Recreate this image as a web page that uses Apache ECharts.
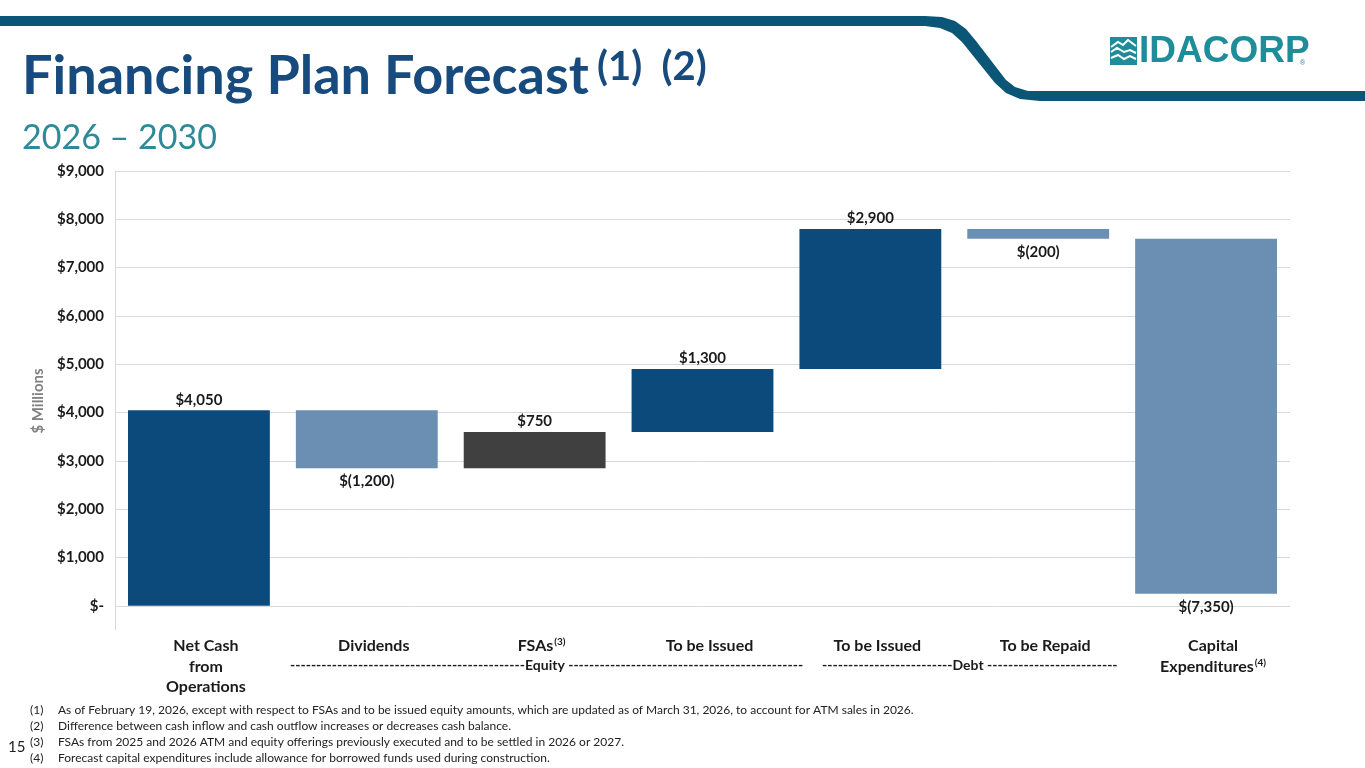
<!DOCTYPE html>
<html>
<head>
<meta charset="utf-8">
<script src="https://cdn.jsdelivr.net/npm/echarts@6/dist/echarts.min.js"></script>
<style>
  html, body { margin: 0; padding: 0; background: #fff; }
  #main { width: 1365px; height: 768px; }
</style>
</head>
<body>
<div id="main"></div>
<script>
// 融资计划瀑布图数据
var categories = ['Net Cash\nfrom\nOperations', 'Dividends', 'FSAs', 'To be Issued', 'To be Issued', 'To be Repaid', 'Capital\nExpenditures'];
var supers = ['', '', '(3)', '', '', '', '(4)'];
var changes = [4050, -1200, 750, 1300, 2900, -200, -7350];
var valueLabels = ['$4,050', '$(1,200)', '$750', '$1,300', '$2,900', '$(200)', '$(7,350)'];
var barColors = ['#0c4a7c', '#6a8fb3', '#404040', '#0c4a7c', '#0c4a7c', '#6a8fb3', '#6a8fb3'];
var yTicks = [0, 1000, 2000, 3000, 4000, 5000, 6000, 7000, 8000, 9000];
var footnotes = [
  'As of February 19, 2026, except with respect to FSAs and to be issued equity amounts, which are updated as of March 31, 2026, to account for ATM sales in 2026.',
  'Difference between cash inflow and cash outflow increases or decreases cash balance.',
  'FSAs from 2025 and 2026 ATM and equity offerings previously executed and to be settled in 2026 or 2027.',
  'Forecast capital expenditures include allowance for borrowed funds used during construction.'
];

var FONT = 'Lato';
var myChart = echarts.init(document.getElementById('main'));

// 基座（透明）和增量
var baseData = [];
var deltaData = [];
var run = 0;
for (var i = 0; i < changes.length; i++) {
  var c = changes[i];
  var bottom = c >= 0 ? run : run + c;
  baseData.push(bottom);
  deltaData.push({
    value: Math.abs(c),
    itemStyle: { color: barColors[i] },
    label: { position: c >= 0 ? 'top' : 'bottom', distance: c >= 0 ? 3 : 6 }
  });
  run += c;
}

// 分类标签带上标
var catLabels = [];
for (var j = 0; j < categories.length; j++) {
  var lines = categories[j].split('\n');
  var last = lines.length - 1;
  var s = '';
  for (var k = 0; k < lines.length; k++) {
    s += '{m|' + lines[k] + '}';
    if (k == last && supers[j]) s += '{s|' + supers[j] + '}';
    if (k < last) s += '\n';
  }
  catLabels.push(s);
}

var footGraphics = [];
for (var f = 0; f < footnotes.length; f++) {
  footGraphics.push({
    type: 'text', left: 30, top: 704 + f * 16.2,
    style: { text: '(' + (f + 1) + ')', font: '12px ' + FONT, fill: '#222' }
  });
  footGraphics.push({
    type: 'text', left: 58, top: 704 + f * 16.2,
    style: { text: footnotes[f], font: '12px ' + FONT, fill: '#222' }
  });
}

// 顶部装饰条轮廓
var bandPoints = [[0, 16], [925, 16], [942, 17], [955, 21], [966, 29], [976, 41], [1006, 80], [1015, 87], [1028, 91], [1365, 91],
  [1365, 101], [1040, 101], [1020, 99], [1006, 93], [995, 83], [962, 42], [952, 33], [940, 28], [925, 26], [0, 26]];

var option = {
  backgroundColor: '#fff',
  animation: false,
  grid: { left: 115, right: 75, top: 171, bottom: 138, containLabel: false },
  xAxis: {
    type: 'category',
    data: catLabels,
    axisLine: { show: false },
    axisTick: { show: false },
    axisLabel: {
      margin: 6,
      interval: 0,
      padding: [0, 0, 0, 14],
      rich: {
        m: { fontFamily: FONT, fontWeight: 'bold', fontSize: 16, color: '#1a1a1a', lineHeight: 20.5 },
        s: { fontFamily: FONT, fontWeight: 'bold', fontSize: 10, color: '#1a1a1a', lineHeight: 20.5, padding: [0, 0, 8, 1] }
      }
    }
  },
  yAxis: {
    type: 'value',
    min: -500,
    max: 9000,
    interval: 500,
    axisLine: { show: true, lineStyle: { color: '#d9d9d9', width: 1 } },
    axisTick: { show: false },
    axisLabel: {
      margin: 11,
      fontFamily: FONT,
      fontWeight: 'bold',
      fontSize: 15,
      color: '#1a1a1a',
      formatter: function (v) {
        if (yTicks.indexOf(v) < 0) return '';
        if (v === 0) return '$-';
        return '$' + v.toLocaleString('en-US');
      }
    },
    splitLine: { show: true, lineStyle: { color: ['transparent', '#d9d9d9'], width: 1 } }
  },
  series: [
    {
      name: 'base',
      type: 'bar',
      stack: 'wf',
      silent: true,
      barWidth: '84.5%',
      itemStyle: { color: 'transparent' },
      data: baseData
    },
    {
      name: 'delta',
      type: 'bar',
      stack: 'wf',
      barWidth: '84.5%',
      label: {
        show: true,
        fontFamily: FONT,
        fontWeight: 'bold',
        fontSize: 15,
        color: '#1a1a1a',
        formatter: function (p) { return valueLabels[p.dataIndex]; }
      },
      data: deltaData
    }
  ],
  graphic: [
    // 顶部装饰条
    {
      type: 'polygon',
      shape: { points: bandPoints },
      style: { fill: '#0b5676' }
    },
    // logo
    { type: 'rect', left: 1110, top: 37, shape: { width: 27, height: 28 }, style: { fill: '#1f8c9a' } },
    { type: 'polyline', shape: { points: [[1111, 47], [1118, 42], [1123, 45], [1128, 40], [1136, 46]] }, style: { stroke: '#fff', lineWidth: 2, fill: null } },
    { type: 'polyline', shape: { points: [[1111, 52], [1117, 48], [1124, 52], [1130, 50], [1136, 53]] }, style: { stroke: '#fff', lineWidth: 2, fill: null } },
    { type: 'polyline', shape: { points: [[1111, 58], [1118, 55], [1124, 59], [1130, 56], [1136, 59]] }, style: { stroke: '#fff', lineWidth: 2, fill: null } },
    {
      type: 'text', left: 1139, top: 33,
      style: { text: 'IDACORP', font: 'bold 37px "Liberation Sans"', fill: '#1f8c9a' }
    },
    {
      type: 'text', left: 1300, top: 60,
      style: { text: '®', font: '7px "Liberation Sans"', fill: '#1f8c9a' }
    },
    // 标题
    {
      type: 'text', left: 22, top: 50,
      style: { text: 'Financing Plan Forecast', font: 'bold 54px ' + FONT, fill: '#174b7d' }
    },
    {
      type: 'text', left: 597, top: 47,
      style: { text: '(1)  (2)', font: 'bold 40px ' + FONT, fill: '#174b7d' }
    },
    {
      type: 'text', left: 22, top: 121,
      style: { text: '2026 \u2013 2030', font: '34px ' + FONT, fill: '#2f8a98' }
    },
    // 纵轴标题
    {
      type: 'text', x: 38, y: 401, rotation: Math.PI / 2,
      style: { text: '$ Millions', font: 'bold 15px ' + FONT, fill: '#808080', align: 'center', verticalAlign: 'middle' }
    },
    // Equity / Debt 分组说明
    {
      type: 'text', left: 290, top: 658,
      style: { text: new Array(46).join('-') + 'Equity ' + new Array(46).join('-'), font: 'bold 14px ' + FONT, fill: '#1a1a1a' }
    },
    {
      type: 'text', left: 822, top: 658,
      style: { text: new Array(26).join('-') + 'Debt ' + new Array(26).join('-'), font: 'bold 14px ' + FONT, fill: '#1a1a1a' }
    },
    // 页码
    {
      type: 'text', left: 8, top: 740,
      style: { text: '15', font: '15px ' + FONT, fill: '#222' }
    }
  ].concat(footGraphics)
};

try {
  myChart.setOption(option);
} catch (err) {
  document.body.insertAdjacentHTML('beforeend', '<pre>' + err.stack + '</pre>');
}
</script>
</body>
</html>
